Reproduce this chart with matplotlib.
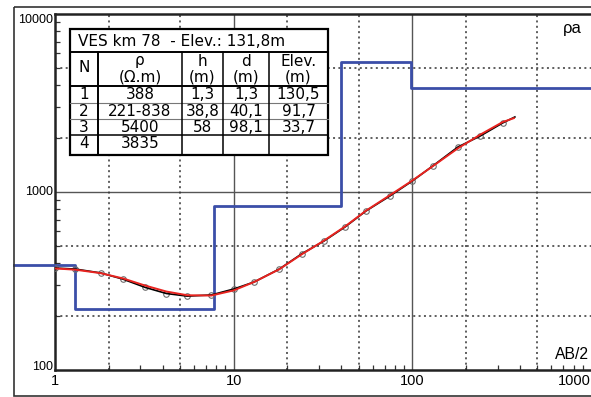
import matplotlib.pyplot as plt
from matplotlib.patches import Rectangle
from matplotlib.ticker import FixedLocator, NullFormatter
import numpy as np

# field data: half electrode spacing AB/2 (m) and apparent resistivity (ohm.m)
ab2 = [1, 1.3, 1.8, 2.4, 3.2, 4.2, 5.5, 7.5, 10, 13, 18, 24, 32, 42, 55, 75,
       100, 130, 180, 240, 320]
rho_meas = [374, 369, 351, 324, 291, 269, 260, 264, 285, 312, 369, 449, 530,
            636, 782, 950, 1153, 1400, 1790, 2064, 2441]
rho_meas_end = (375, 2640)

# computed curve of the fitted model
ab2_calc = [1, 1.3, 1.8, 2.4, 3.2, 4.2, 5.5, 7.5, 10, 13, 18, 24, 32, 42, 55,
            75, 100, 130, 180, 240, 320, 370]
rho_calc = [372, 366, 350, 327, 298, 276, 263, 262, 280, 312, 368, 446, 533,
            640, 785, 960, 1160, 1395, 1760, 2100, 2470, 2600]

# layered model (step line)
layer_tops = [1.3, 7.8, 40.1, 98.1]
layer_rho = [388, 221, 838, 5400, 3835]

# table contents
tbl_title = "VES km 78  - Elev.: 131,8m"
tbl_head = [("N", ""), ("\u03c1", "(\u03a9.m)"), ("h", "(m)"), ("d", "(m)"), ("Elev.", "(m)")]
tbl_n = ["1", "2", "3", "4"]
tbl_rho = ["388", "221-838", "5400", "3835"]
tbl_h = ["1,3", "38,8", "58", ""]
tbl_d = ["1,3", "40,1", "98,1", ""]
tbl_elev = ["130,5", "91,7", "33,7", ""]

plt.rcParams['font.family'] = ['Liberation Sans', 'DejaVu Sans']

W, H = 591, 397
fig = plt.figure(figsize=(W / 100, H / 100), dpi=100)
ax = fig.add_axes([55 / W, 1 - 370 / H, 1 - 55 / W, (370 - 14) / H])
ax.set_xscale('log')
ax.set_yscale('log')
ax.set_xlim(1, 1000)
ax.set_ylim(100, 10000)

# grid: solid at decades, dotted at 2 and 5
for v in [10, 100]:
    ax.axvline(v, color='#555555', lw=1.0, zorder=1)
ax.axhline(1000, color='#555555', lw=1.0, zorder=1)
for v in [2, 5, 20, 50, 200, 500]:
    ax.axvline(v, color='#333333', lw=1.1, ls=(0, (1.3, 2.2)), zorder=1)
for v in [200, 500, 2000, 5000]:
    ax.axhline(v, color='#333333', lw=1.1, ls=(0, (1.3, 2.2)), zorder=1)

# model step line
edges = [0.59] + layer_tops + [1000]
ax.step(edges, layer_rho + [layer_rho[-1]], where='post', color='#3b4ea8',
        lw=2.0, clip_on=False, zorder=3)

ax.plot(ab2, rho_meas, 'o', ms=4, mfc='none', mec='#6e6e6e', mew=0.8, zorder=4)
ax.plot(ab2 + [rho_meas_end[0]], rho_meas + [rho_meas_end[1]], color='black',
        lw=1.2, zorder=5)
ax.plot(ab2_calc, rho_calc, color='#e8231f', lw=1.4, zorder=6)

# ticks
ax.xaxis.set_major_locator(FixedLocator([1, 10, 100, 1000]))
ax.yaxis.set_major_locator(FixedLocator([100, 1000, 10000]))
ax.set_xticklabels(['1', '10', '100', '1000'], fontsize=10.5)
ax.set_yticklabels(['100', '1000', '10000'], fontsize=9)
ax.xaxis.set_minor_formatter(NullFormatter())
ax.yaxis.set_minor_formatter(NullFormatter())
ax.tick_params(which='major', length=0)
ax.tick_params(axis='x', which='major', pad=3)
ax.tick_params(axis='y', which='major', pad=1.5)
ax.tick_params(which='minor', direction='in', length=3.5, width=0.9, color='#333333')
xl = ax.get_xticklabels()
xl[-1].set_ha('right')
yl = ax.get_yticklabels()
yl[0].set_va('baseline')
yl[1].set_va('center')
yl[2].set_va('top')

for s in ['left', 'bottom', 'top']:
    ax.spines[s].set_linewidth(1.8)
    ax.spines[s].set_color('#222222')
ax.spines['right'].set_visible(False)

# overlay in pixel coordinates for frame, labels and table
ov = fig.add_axes([0, 0, 1, 1], zorder=3)
ov.set_xlim(0, W)
ov.set_ylim(H, 0)
ov.axis('off')
ov.patch.set_alpha(0)

ov.add_patch(Rectangle((14, 7), 600, 389, fill=False, ec='#333333', lw=1.2,
                       clip_on=False))
ov.text(563, 33, "\u03c1a", fontsize=12, ha='left', va='baseline')
ov.text(555, 359, "AB/2", fontsize=11.3, ha='left', va='baseline')

# table
tf = dict(family=['DejaVu Sans'], fontsize=11)
cols = [70, 98, 182, 223, 269, 328]
rows = [29, 52, 86, 103, 119, 135, 155]
ov.add_patch(Rectangle((cols[0], rows[0]), cols[-1] - cols[0], rows[-1] - rows[0],
                       fc='white', ec='black', lw=1.6))
for y, lw, c in [(52, 1.4, 'black'), (86, 1.4, 'black'), (103, 0.8, '#777777'),
                 (119, 0.8, '#777777'), (135, 1.1, 'black')]:
    ov.plot([cols[0], cols[-1]], [y, y], color=c, lw=lw)
for x, lw in [(98, 1.4), (182, 1.1), (223, 1.1), (269, 1.1)]:
    ov.plot([x, x], [rows[1], rows[-1]], color='black', lw=lw)

ov.text(78, 41, tbl_title, ha='left', va='center', **tf)
for i, (top, bot) in enumerate(tbl_head):
    cx = (cols[i] + cols[i + 1]) / 2
    if bot:
        ov.text(cx, 61, top, ha='center', va='center', **tf)
        ov.text(cx, 77, bot, ha='center', va='center', **tf)
    else:
        ov.text(cx, 68, top, ha='center', va='center', **tf)
row_y = [94.5, 111.5, 127.5, 144]
for r, y in enumerate(row_y):
    for c, col in enumerate([tbl_n, tbl_rho, tbl_h, tbl_d, tbl_elev]):
        cx = (cols[c] + cols[c + 1]) / 2
        ov.text(cx, y, col[r], ha='center', va='center', **tf)

fig.savefig('out.png', dpi=100)
